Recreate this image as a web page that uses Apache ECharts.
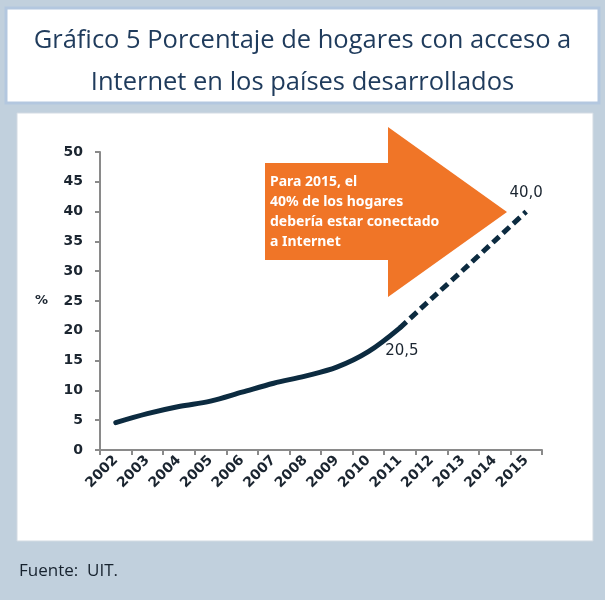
<!DOCTYPE html>
<html>
<head>
<meta charset="utf-8">
<script src="https://cdn.jsdelivr.net/npm/echarts@6/dist/echarts.min.js"></script>
<style>
html,body{margin:0;padding:0;background:#c1d0dd;}
#chart{width:605px;height:600px;}
</style>
</head>
<body>
<div id="chart"></div>
<script>
var years = ['2002','2003','2004','2005','2006','2007','2008','2009','2010','2011','2012','2013','2014','2015'];
var actual = [4.6, 6.1, 7.3, 8.2, 9.7, 11.2, 12.4, 13.9, 16.5, 20.5, null, null, null, null];
var projected = [null, null, null, null, null, null, null, null, null, 20.5, 25.4, 30.2, 35.1, 40.0];
var yTicks = [0, 5, 10, 15, 20, 25, 30, 35, 40, 45, 50];
var titleText = 'Gráfico 5 Porcentaje de hogares con acceso a\nInternet en los países desarrollados';
var arrowText = 'Para 2015, el\n40% de los hogares\ndebería estar conectado\na Internet';
var sourceText = 'Fuente:  UIT.';

var chart = echarts.init(document.getElementById('chart'), null, {renderer:'canvas'});
var lineColor = '#0c2b40';

var projData = projected.map(function(v, i){
  if (v === null) return null;
  if (i === 9) return {value: v, label: {show: true, position: 'bottom', offset: [2, 11], formatter: '20,5'}};
  if (i === 13) return {value: v, label: {show: true, position: 'top', offset: [0, -6], formatter: '40,0'}};
  return v;
});

var option = {
  backgroundColor: '#c1d0dd',
  animation: false,
  graphic: [
    {type:'rect', shape:{x:6, y:8, width:593, height:95}, style:{fill:'#ffffff', stroke:'#b3c7df', lineWidth:3}, z:-10},
    {type:'rect', shape:{x:17, y:113, width:576, height:428}, style:{fill:'#ffffff', stroke:'#d3dbe3', lineWidth:1}, z:-10},
    {type:'polygon', shape:{points:[[265,163],[388,163],[388,127],[507,212],[388,297],[388,260],[265,260]]},
      style:{fill:'#f07527'}, z:5},
    {type:'text', left:270, top:172, style:{text: arrowText, fill:'#ffffff', font:'bold 14px "Noto Sans"', lineHeight:20}, z:6}
  ],
  title: [
    {text: titleText, left:'center', top:15, textStyle:{color:'#1f3b5c', fontFamily:'"Open Sans"', fontWeight:'normal', fontSize:25.5, lineHeight:42}},
    {text: sourceText, left:19, top:563, padding:0, textStyle:{color:'#17222e', fontFamily:'"Open Sans"', fontWeight:'normal', fontSize:17}}
  ],
  grid: {left:100, right:63, top:152, bottom:150, containLabel:false},
  xAxis: {
    type:'category', data: years, boundaryGap:true,
    axisLine:{lineStyle:{color:'#8a8a8a', width:2}},
    axisTick:{show:true, alignWithLabel:false, length:5, lineStyle:{color:'#8a8a8a', width:2}},
    axisLabel:{rotate:45, color:'#1b2530', fontFamily:'"DejaVu Sans"', fontWeight:'bold', fontSize:14, margin:8, interval:0}
  },
  yAxis: {
    type:'value', min: yTicks[0], max: yTicks[yTicks.length-1], interval:5,
    name:'%', nameLocation:'middle', nameRotate:0, nameGap:52,
    nameTextStyle:{color:'#1b2530', fontFamily:'"DejaVu Sans"', fontWeight:'bold', fontSize:13},
    splitLine:{show:false},
    axisLine:{show:true, lineStyle:{color:'#8a8a8a', width:2}},
    axisTick:{show:true, length:5, lineStyle:{color:'#8a8a8a', width:2}},
    axisLabel:{color:'#1b2530', fontFamily:'"DejaVu Sans"', fontWeight:'bold', fontSize:14, margin:17}
  },
  series: [
    {type:'line', data: actual, smooth:0.35, symbol:'none', connectNulls:false,
     lineStyle:{color: lineColor, width:5, cap:'round'}, z:3},
    {type:'line', data: projData, smooth:0.2, symbol:'circle', symbolSize:0, showAllSymbol:true, connectNulls:false,
     itemStyle:{color:'rgba(0,0,0,0)'},
     lineStyle:{color: lineColor, width:5, type:[9,5], cap:'butt'}, z:3,
     label:{show:false, color:'#1b2530', fontFamily:'"DejaVu Sans"', fontSize:15}}
  ]
};
chart.setOption(option);
</script>
</body>
</html>
